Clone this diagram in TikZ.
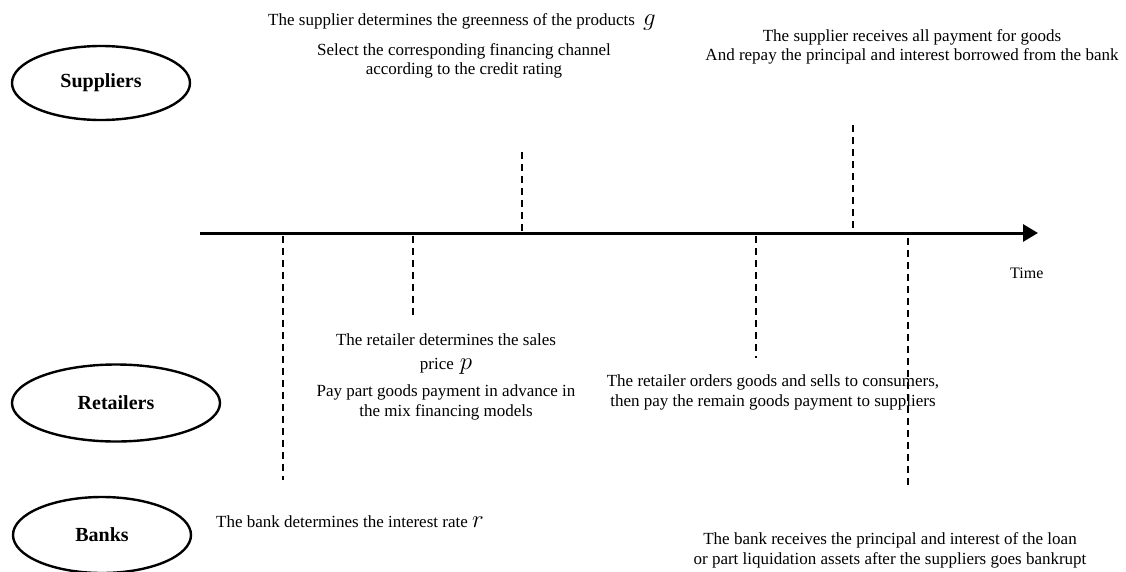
\documentclass[tikz,border=0pt]{standalone}
\usepackage{fontspec}
\setmainfont{Liberation Serif}
\usetikzlibrary{shapes.geometric,arrows.meta}
\begin{document}
\begin{tikzpicture}[x=1pt,y=-1pt,
  actor/.style={ellipse,draw,line width=2.4pt,inner sep=0pt,
    font=\fontsize{20}{24}\selectfont\bfseries},
  txt/.style={anchor=base,inner sep=0pt,font=\fontsize{17}{20}\selectfont},
  txtl/.style={txt,anchor=base west},
  evline/.style={dash pattern=on 7pt off 5pt,line width=1.5pt},
  timeaxis/.style={line width=3pt,-{Triangle[length=15pt,width=17pt]}},
  mathsym/.style={}]
\useasboundingbox (0,0) rectangle (1126,571);

% actors
\node[actor,minimum width=178pt,minimum height=74pt] (sup) at (101,83) {Suppliers};
\node[actor,minimum width=208pt,minimum height=77pt] (ret) at (116,403) {Retailers};
\node[actor,minimum width=178pt,minimum height=76pt] (bank) at (102,535) {Banks};

% time axis
\coordinate (axs) at (200,233);
\coordinate (axe) at (1038,233);
\draw[timeaxis] (axs) -- (axe);
\node[txtl,font=\fontsize{16}{19}\selectfont] (time) at (1010,278) {Time};

% event lines
\coordinate (e1a) at (283,236); \coordinate (e1b) at (283,480);
\coordinate (e2a) at (413,236); \coordinate (e2b) at (413,315);
\coordinate (e3a) at (522,152); \coordinate (e3b) at (522,231);
\coordinate (e4a) at (756,236); \coordinate (e4b) at (756,358);
\coordinate (e5a) at (853,125); \coordinate (e5b) at (853,231);
\coordinate (e6a) at (908,238); \coordinate (e6b) at (908,485);
\draw[evline] (e1a) -- (e1b);
\draw[evline] (e2a) -- (e2b);
\draw[evline] (e3a) -- (e3b);
\draw[evline] (e4a) -- (e4b);
\draw[evline] (e5a) -- (e5b);
\draw[evline] (e6a) -- (e6b);

% supplier texts
\node[txtl] (s1) at (268,25) {The supplier determines the greenness of the products\hspace{8pt}{\fontsize{25}{25}\selectfont$g$}};
\node[txt] (s2) at (464,55) {Select the corresponding financing channel};
\node[txt] (s3) at (464,74) {according to the credit rating};
\node[txt] (s4) at (912,41) {The supplier receives all payment for goods};
\node[txt] (s5) at (912,60) {And repay the principal and interest borrowed from the bank};

% retailer texts
\node[txt] (r1) at (446,345) {The retailer determines the sales};
\node[txt] (r2) at (446,369) {price\hspace{6pt}{\fontsize{25}{25}\selectfont$p$}};
\node[txt] (r3) at (446,396) {Pay part goods payment in advance in};
\node[txt] (r4) at (446,416) {the mix financing models};
\node[txt] (r5) at (773,386) {The retailer orders goods and sells to consumers,};
\node[txt] (r6) at (773,406) {then pay the remain goods payment to suppliers};

% bank texts
\node[txtl] (b1) at (216,527) {The bank determines the interest rate {\fontsize{25}{25}\selectfont$r$}};
\node[txt] (b2) at (890,544) {The bank receives the principal and interest of the loan};
\node[txt] (b3) at (890,564) {or part liquidation assets after the suppliers goes bankrupt};
\end{tikzpicture}
\end{document}
